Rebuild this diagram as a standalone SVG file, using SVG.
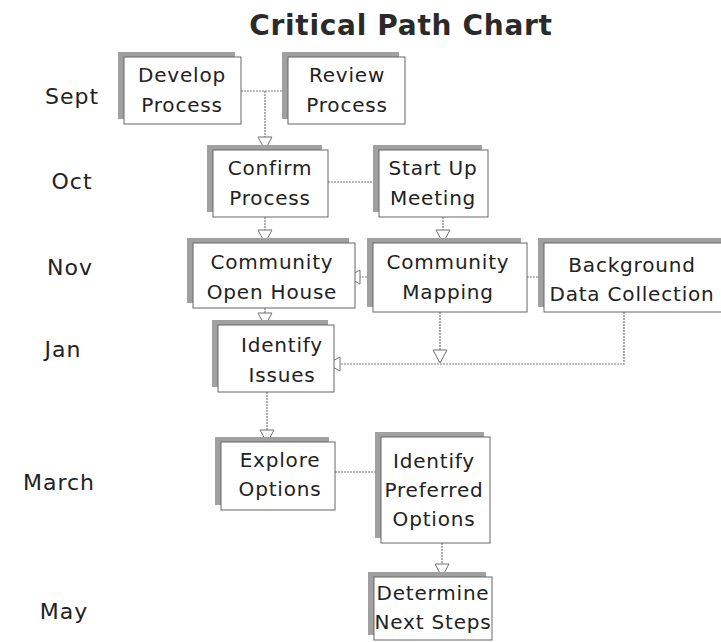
<svg xmlns="http://www.w3.org/2000/svg" width="721" height="642" viewBox="0 0 721 642">
  <defs>
    <style>
      .shadow { fill: #a0a0a0; }
      .body { fill: #ffffff; stroke: #666666; stroke-width: 1; }
      .lbl { font-family: "DejaVu Sans", "Liberation Sans", sans-serif; font-size: 20px; letter-spacing: 0.8px; fill: #222; text-anchor: middle; }
      .month { font-family: "DejaVu Sans", "Liberation Sans", sans-serif; font-size: 22px; letter-spacing: 1px; fill: #222; text-anchor: middle; }
      .title { font-family: "DejaVu Sans", "Liberation Sans", sans-serif; font-size: 28px; font-weight: bold; letter-spacing: 0.7px; fill: #2a2a2a; text-anchor: middle; }
      .link { fill: none; stroke: #7a7a7a; stroke-width: 1.2; stroke-dasharray: 2 1; }
    </style>
    <!-- hollow triangular arrowhead shared by all directed links -->
    <marker id="tri" markerUnits="userSpaceOnUse" markerWidth="18" markerHeight="18" refX="14" refY="8" orient="auto">
      <path d="M1,1 L14,8 L1,15 Z" fill="#ffffff" stroke="#707070" stroke-width="1"/>
    </marker>
  </defs>

  <rect width="721" height="642" fill="#ffffff"/>

  <text class="title" x="401" y="35">Critical Path Chart</text>

  <!-- month labels -->
  <g id="months">
    <text class="month" x="72" y="104">Sept</text>
    <text class="month" x="72" y="189">Oct</text>
    <text class="month" x="70" y="275">Nov</text>
    <text class="month" x="63" y="357">Jan</text>
    <text class="month" x="59" y="490">March</text>
    <text class="month" x="64" y="619">May</text>
  </g>

  <!-- connectors -->
  <g id="connectors">
    <path class="link" d="M241,91 H288"/>
    <path class="link" d="M265,91 V150" marker-end="url(#tri)"/>
    <path class="link" d="M328,182 H379"/>
    <path class="link" d="M265,217 V243" marker-end="url(#tri)"/>
    <path class="link" d="M443,217 V243" marker-end="url(#tri)"/>
    <path class="link" d="M367,277 H347" marker-end="url(#tri)"/>
    <path class="link" d="M527,277 H553" marker-end="url(#tri)"/>
    <path class="link" d="M265,308 V326" marker-end="url(#tri)"/>
    <path class="link" d="M440,312 V363" marker-end="url(#tri)"/>
    <path class="link" d="M624,312 V364 H327" marker-end="url(#tri)"/>
    <path class="link" d="M267,392 V443" marker-end="url(#tri)"/>
    <path class="link" d="M335,472 H381"/>
    <path class="link" d="M442,543 V577" marker-end="url(#tri)"/>
  </g>

  <g id="develop-process">
    <rect class="shadow" x="118" y="52" width="117" height="67"/>
    <rect class="body" x="124" y="57" width="117" height="67"/>
    <text class="lbl" x="182" y="82">Develop</text>
    <text class="lbl" x="182" y="112">Process</text>
  </g>

  <g id="review-process">
    <rect class="shadow" x="282" y="52" width="117" height="67"/>
    <rect class="body" x="288" y="57" width="117" height="67"/>
    <text class="lbl" x="347" y="82">Review</text>
    <text class="lbl" x="347" y="112">Process</text>
  </g>

  <g id="confirm-process">
    <rect class="shadow" x="207" y="145" width="115" height="67"/>
    <rect class="body" x="213" y="150" width="115" height="67"/>
    <text class="lbl" x="270" y="175">Confirm</text>
    <text class="lbl" x="270" y="205">Process</text>
  </g>

  <g id="start-up-meeting">
    <rect class="shadow" x="373" y="145" width="109" height="67"/>
    <rect class="body" x="379" y="150" width="109" height="67"/>
    <text class="lbl" x="433" y="175">Start Up</text>
    <text class="lbl" x="433" y="205">Meeting</text>
  </g>

  <g id="community-open-house">
    <rect class="shadow" x="187" y="238" width="162" height="65"/>
    <rect class="body" x="193" y="243" width="162" height="65"/>
    <text class="lbl" x="272" y="269">Community</text>
    <text class="lbl" x="272" y="299">Open House</text>
  </g>

  <g id="community-mapping">
    <rect class="shadow" x="367" y="238" width="154" height="69"/>
    <rect class="body" x="373" y="243" width="154" height="69"/>
    <text class="lbl" x="448" y="269">Community</text>
    <text class="lbl" x="448" y="299">Mapping</text>
  </g>

  <g id="background-data-collection">
    <rect class="shadow" x="538" y="238" width="190" height="69"/>
    <rect class="body" x="544" y="243" width="190" height="69"/>
    <text class="lbl" x="632" y="272">Background</text>
    <text class="lbl" x="632" y="301">Data Collection</text>
  </g>

  <g id="identify-issues">
    <rect class="shadow" x="212" y="320" width="116" height="67"/>
    <rect class="body" x="218" y="325" width="116" height="67"/>
    <text class="lbl" x="282" y="352">Identify</text>
    <text class="lbl" x="282" y="382">Issues</text>
  </g>

  <g id="explore-options">
    <rect class="shadow" x="215" y="437" width="114" height="68"/>
    <rect class="body" x="221" y="442" width="114" height="68"/>
    <text class="lbl" x="280" y="467">Explore</text>
    <text class="lbl" x="280" y="496">Options</text>
  </g>

  <g id="identify-preferred-options">
    <rect class="shadow" x="375" y="432" width="109" height="106"/>
    <rect class="body" x="381" y="437" width="109" height="106"/>
    <text class="lbl" x="434" y="468">Identify</text>
    <text class="lbl" x="434" y="497">Preferred</text>
    <text class="lbl" x="434" y="526">Options</text>
  </g>

  <g id="determine-next-steps">
    <rect class="shadow" x="368" y="572" width="118" height="63"/>
    <rect class="body" x="374" y="577" width="118" height="63"/>
    <text class="lbl" x="433" y="600">Determine</text>
    <text class="lbl" x="433" y="629">Next Steps</text>
  </g>
</svg>
